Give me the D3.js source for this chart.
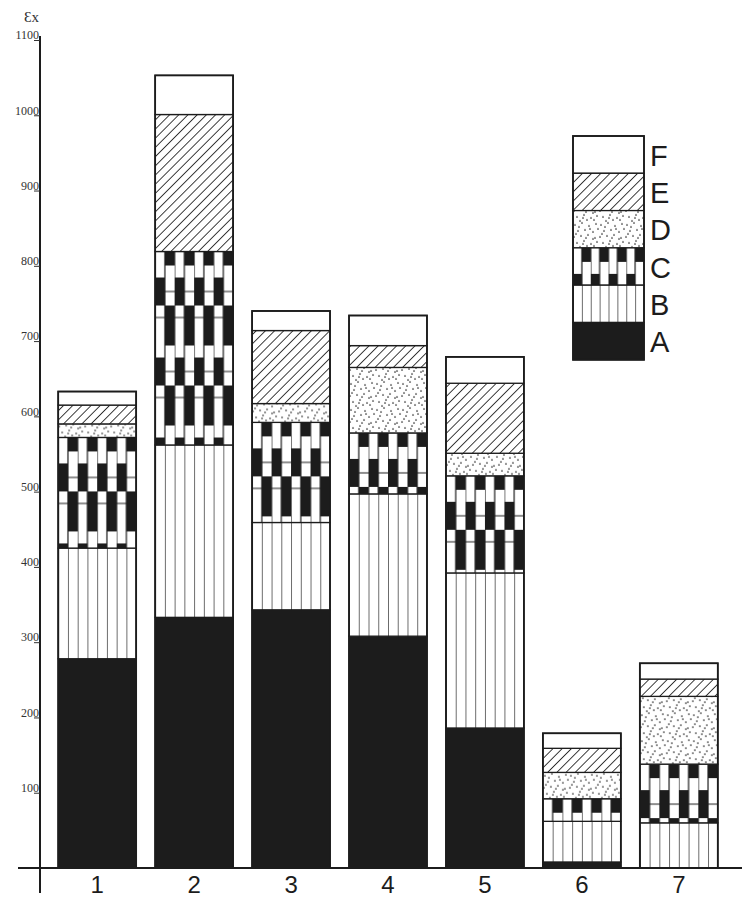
<!DOCTYPE html>
<html>
<head>
<meta charset="utf-8">
<script src="https://cdn.jsdelivr.net/npm/d3@7"></script>
<style>
  html, body { margin: 0; padding: 0; background: #fff; }
  svg { display: block; }
</style>
</head>
<body>
<svg id="chart" width="742" height="900"></svg>
<script>
// ---- data ----
const categories = ["1", "2", "3", "4", "5", "6", "7"];
const seriesNames = ["A", "B", "C", "D", "E", "F"];
const valuesA = [278, 333, 343, 308, 186, 8, 0];
const valuesB = [147, 229, 116, 189, 206, 54, 60];
const valuesC = [147, 257, 133, 81, 129, 30, 78];
const valuesD = [18, 0, 25, 87, 30, 35, 90];
const valuesE = [25, 182, 97, 29, 93, 32, 23];
const valuesF = [18, 52, 26, 40, 35, 20, 21];
const yTicks = [100, 200, 300, 400, 500, 600, 700, 800, 900, 1000, 1100];
const yLabel = "Ɛx";

const seriesValues = { A: valuesA, B: valuesB, C: valuesC, D: valuesD, E: valuesE, F: valuesF };
const table = categories.map((c, i) => {
  const row = { cat: c };
  seriesNames.forEach(s => row[s] = seriesValues[s][i]);
  return row;
});

const svg = d3.select("#chart");
const ink = "#1c1c1c";

const x = d3.scaleBand().domain(categories).range([48.5, 727.5]).paddingInner(0.196).paddingOuter(0.1);
const y = d3.scaleLinear().domain([0, 1100]).range([868, 40]);

const stack = d3.stack().keys(seriesNames)(table);

const defs = svg.append("defs");

// stipple dot positions inside a 26x26 tile (texture only)
const dots = [[2,3],[9,1],[16,4],[23,2],[5,9],[12,8],[20,10],[25,7],[1,15],[8,14],[15,13],[22,16],[4,21],[11,19],[18,22],[24,20],[7,25],[14,24],[20,17],[3,12],[17,7],[10,22],[6,5],[13,16],[21,24]];

function makePatterns(id, x0, y0, w) {
  const col = w / 8;
  // B: vertical lines
  const pb = defs.append("pattern").attr("id", "B" + id).attr("patternUnits", "userSpaceOnUse")
    .attr("x", x0).attr("y", 0).attr("width", col).attr("height", 10);
  pb.append("rect").attr("width", col).attr("height", 10).attr("fill", "#fff");
  pb.append("line").attr("x1", 0).attr("x2", 0).attr("y1", 0).attr("y2", 10).attr("stroke", ink).attr("stroke-width", 1.3);

  // C: staggered black blocks in columns
  const h = 80;
  const pc = defs.append("pattern").attr("id", "C" + id).attr("patternUnits", "userSpaceOnUse")
    .attr("x", x0).attr("y", y0).attr("width", col * 2).attr("height", h);
  pc.append("rect").attr("width", col * 2).attr("height", h).attr("fill", "#fff");
  pc.append("rect").attr("x", col).attr("y", 0).attr("width", col).attr("height", 14).attr("fill", ink);
  pc.append("rect").attr("x", col).attr("y", 54).attr("width", col).attr("height", 26).attr("fill", ink);
  pc.append("rect").attr("x", 0).attr("y", 26).attr("width", col).attr("height", 28).attr("fill", ink);
  pc.append("line").attr("x1", 0).attr("x2", 0).attr("y1", 0).attr("y2", h).attr("stroke", ink).attr("stroke-width", 1.2);
  pc.append("line").attr("x1", col).attr("x2", col).attr("y1", 0).attr("y2", h).attr("stroke", ink).attr("stroke-width", 1.2);
  pc.append("line").attr("x1", 0).attr("x2", col).attr("y1", 66).attr("y2", 66).attr("stroke", ink).attr("stroke-width", 1);
  pc.append("line").attr("x1", col).attr("x2", col * 2).attr("y1", 40).attr("y2", 40).attr("stroke", ink).attr("stroke-width", 1);

  // D: stipple
  const pd = defs.append("pattern").attr("id", "D" + id).attr("patternUnits", "userSpaceOnUse")
    .attr("x", x0).attr("y", y0).attr("width", 26).attr("height", 26);
  pd.append("rect").attr("width", 26).attr("height", 26).attr("fill", "#fff");
  pd.selectAll("circle").data(dots).join("circle")
    .attr("cx", d => d[0]).attr("cy", d => d[1]).attr("r", 0.85).attr("fill", "#2a2a2a");

  // E: diagonal hatch "/"
  const pe = defs.append("pattern").attr("id", "E" + id).attr("patternUnits", "userSpaceOnUse")
    .attr("x", x0).attr("y", 0).attr("width", 6.5).attr("height", 10)
    .attr("patternTransform", "rotate(45)");
  pe.append("rect").attr("width", 6.5).attr("height", 10).attr("fill", "#fff");
  pe.append("line").attr("x1", 0).attr("x2", 0).attr("y1", 0).attr("y2", 10).attr("stroke", ink).attr("stroke-width", 1.7);
}

function fillFor(key, id) {
  if (key === "A") return ink;
  if (key === "F") return "#fff";
  return `url(#${key}${id})`;
}

// patterns per bar
categories.forEach((c, i) => {
  const segC = stack[2][i];
  makePatterns("bar" + i, x(c), y(segC[1]), x.bandwidth());
});

// ---- bars ----
const g = svg.append("g");
stack.forEach(layer => {
  const key = layer.key;
  g.append("g").selectAll("rect").data(layer).join("rect")
    .filter(d => d[1] - d[0] > 0)
    .attr("x", d => x(d.data.cat))
    .attr("y", d => y(d[1]))
    .attr("width", x.bandwidth())
    .attr("height", d => y(d[0]) - y(d[1]))
    .attr("fill", d => fillFor(key, "bar" + categories.indexOf(d.data.cat)))
    .attr("stroke", ink)
    .attr("stroke-width", 1.3);
});
// bar outline
g.append("g").selectAll("rect").data(table).join("rect")
  .attr("x", d => x(d.cat))
  .attr("y", d => y(d3.sum(seriesNames, s => d[s])))
  .attr("width", x.bandwidth())
  .attr("height", d => y(0) - y(d3.sum(seriesNames, s => d[s])))
  .attr("fill", "none").attr("stroke", ink).attr("stroke-width", 1.8);

// ---- axes ----
svg.append("line").attr("x1", 18).attr("x2", 742).attr("y1", y(0)).attr("y2", y(0))
  .attr("stroke", ink).attr("stroke-width", 2);
svg.append("line").attr("x1", 40).attr("x2", 40).attr("y1", y(1100) - 4).attr("y2", 893)
  .attr("stroke", ink).attr("stroke-width", 2);

const yAxis = d3.axisLeft(y).tickValues(yTicks).tickFormat(d3.format("d")).tickSize(6).tickSizeOuter(0).tickPadding(2);
const ya = svg.append("g").attr("transform", "translate(40,0)").call(yAxis);
ya.select(".domain").remove();
ya.selectAll(".tick line").attr("stroke", "#333").attr("stroke-width", 1);
ya.selectAll(".tick text")
  .attr("font-family", "Liberation Serif, DejaVu Serif, serif")
  .attr("font-size", 12).attr("fill", "#333")
  .attr("dy", "-0.1em").attr("x", -1);

svg.append("text").attr("x", 24).attr("y", 22).text(yLabel)
  .attr("font-family", "Liberation Serif, DejaVu Serif, serif")
  .attr("font-size", 15).attr("fill", "#333");

const xAxis = d3.axisBottom(x).tickSize(0).tickPadding(0);
const xa = svg.append("g").attr("transform", `translate(0,${y(0)})`).call(xAxis);
xa.select(".domain").remove();
xa.selectAll(".tick text")
  .attr("font-family", "Liberation Sans, Arial, sans-serif")
  .attr("font-size", 24).attr("fill", ink).attr("dy", 0).attr("y", 25);
</script>
<script>
// ---- legend ----
(function () {
  const svg = d3.select("#chart");
  const legendX = 573, legendTop = 136, legendW = 71, legendH = 37.3;
  const legendOrder = seriesNames.slice().reverse(); // F at top
  makePatterns("leg", legendX, legendTop + 3 * legendH, legendW);
  const lg = svg.append("g");
  lg.selectAll("rect").data(legendOrder).join("rect")
    .attr("x", legendX).attr("y", (d, i) => legendTop + i * legendH)
    .attr("width", legendW).attr("height", legendH)
    .attr("fill", d => fillFor(d, "leg")).attr("stroke", ink).attr("stroke-width", 1.3);
  lg.append("rect").attr("x", legendX).attr("y", legendTop).attr("width", legendW).attr("height", legendH * 6)
    .attr("fill", "none").attr("stroke", ink).attr("stroke-width", 1.8);
  lg.selectAll("text").data(legendOrder).join("text")
    .attr("x", legendX + 77).attr("y", (d, i) => legendTop + i * legendH + legendH / 2 + 11)
    .text(d => d)
    .attr("font-family", "Liberation Sans, Arial, sans-serif")
    .attr("font-size", 29).attr("fill", ink);
})();
</script>
</body>
</html>
